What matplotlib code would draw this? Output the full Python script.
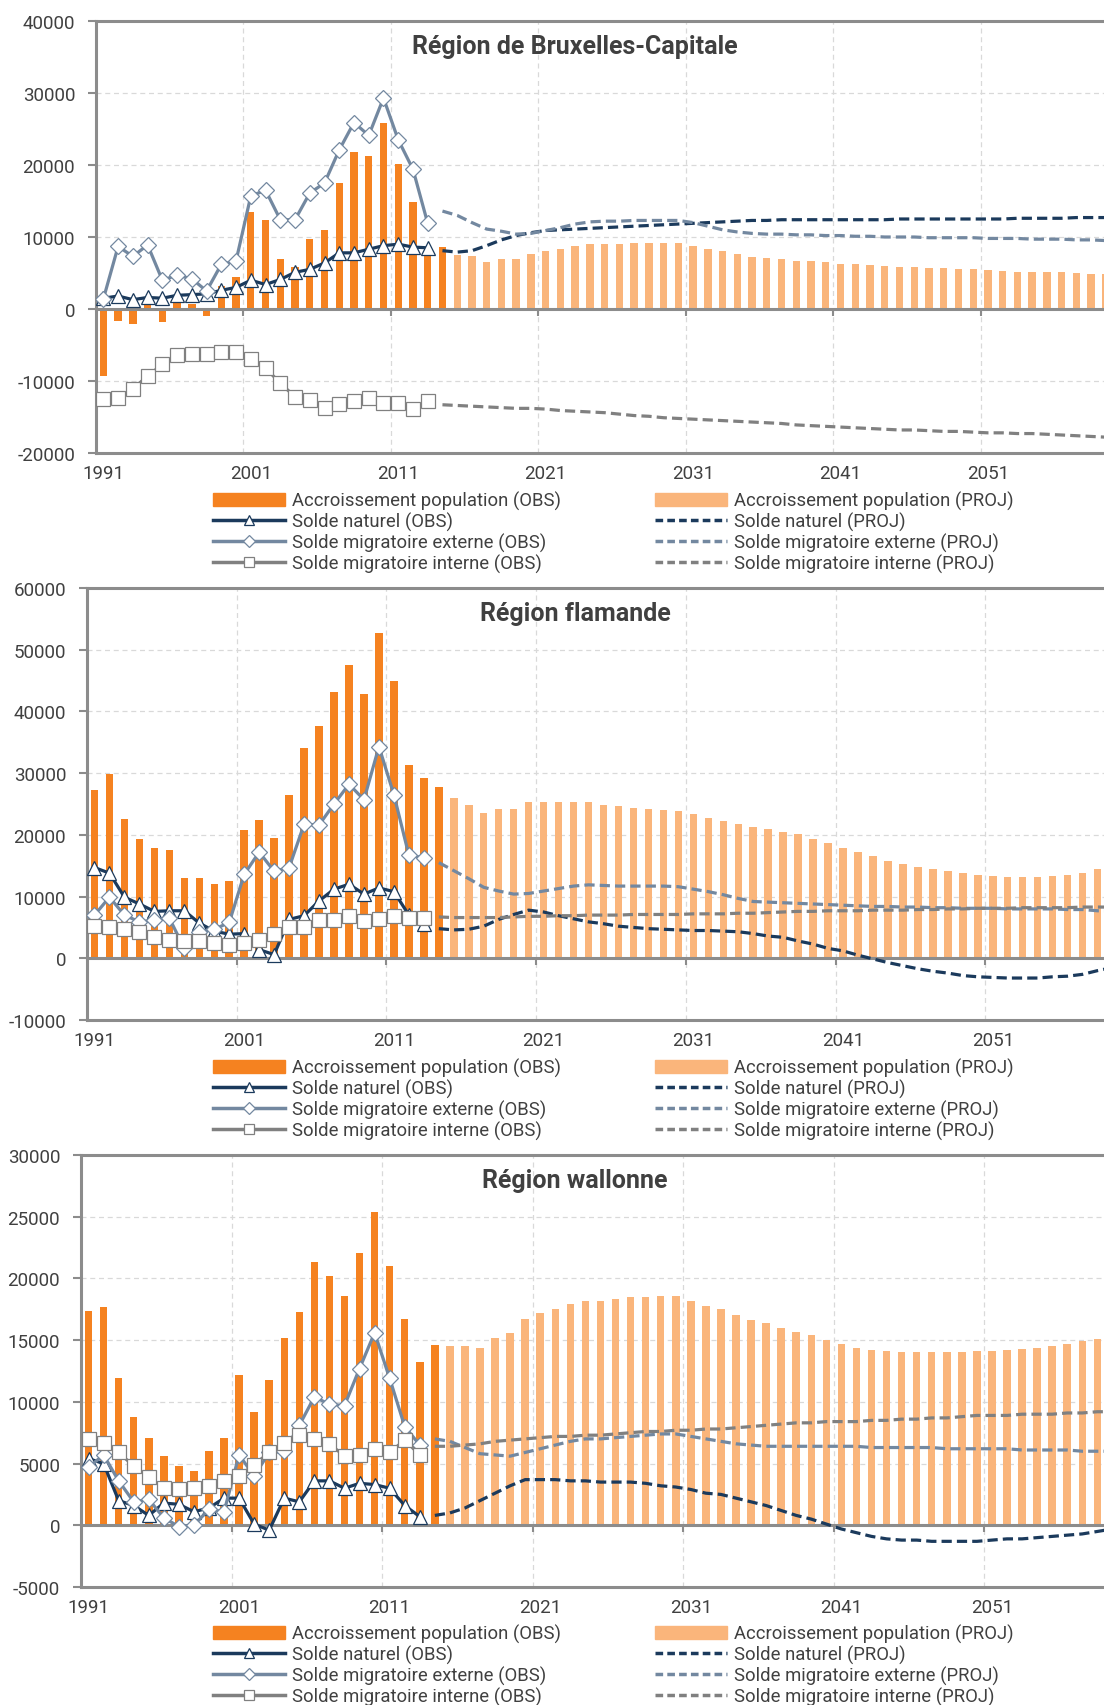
import numpy as np
import matplotlib
matplotlib.use("Agg")
import matplotlib.pyplot as plt
from matplotlib.lines import Line2D
from matplotlib.patches import Patch

plt.rcParams['font.family'] = ['Roboto', 'DejaVu Sans']
plt.rcParams['axes.unicode_minus'] = False

# years
years_obs = np.arange(1991, 2014)        # observed lines
years_bar_obs = np.arange(1991, 2015)    # observed bars
years_bar_proj = np.arange(2015, 2061)   # projected bars
years_proj = np.arange(2014, 2061)       # projected lines
tick_years = [1991, 2001, 2011, 2021, 2031, 2041, 2051]

labels_obs = ["Accroissement population (OBS)", "Solde naturel (OBS)",
              "Solde migratoire externe (OBS)", "Solde migratoire interne (OBS)"]
labels_proj = ["Accroissement population (PROJ)", "Solde naturel (PROJ)",
               "Solde migratoire externe (PROJ)", "Solde migratoire interne (PROJ)"]

# --- Région de Bruxelles-Capitale
bx_acc_obs = [-9300, -1600, -2100, 500, -1800, 1100, 700, -1000, 3200, 4500, 13500, 12400,
              6900, 5900, 9700, 11000, 17500, 21800, 21200, 25900, 20100, 14900, 8000, 8600]
bx_nat_obs = [1500, 1800, 1300, 1600, 1500, 1900, 2000, 2100, 2600, 3000, 4000, 3400,
              4100, 5100, 5500, 6400, 7800, 7800, 8300, 8800, 9000, 8600, 8500]
bx_ext_obs = [1400, 8700, 7300, 8900, 4000, 4700, 4200, 2500, 6200, 6700, 15700, 16500,
              12400, 12400, 16100, 17500, 22100, 25900, 24100, 29300, 23500, 19400, 11900]
bx_int_obs = [-12500, -12300, -11100, -9300, -7700, -6400, -6300, -6300, -6000, -6000, -7000, -8200,
              -10300, -12200, -12600, -13700, -13200, -12800, -12300, -13100, -13100, -13900, -12800]
bx_acc_proj = [7500, 7300, 6500, 6900, 6900, 7700, 8000, 8400, 8700, 9000,
               9000, 9000, 9100, 9100, 9100, 9200, 8800, 8400, 8000, 7600,
               7200, 7100, 6900, 6700, 6600, 6500, 6300, 6300, 6100, 6000,
               5900, 5900, 5700, 5700, 5600, 5500, 5400, 5300, 5200, 5200,
               5100, 5100, 5000, 4900, 4800, 4700]
bx_nat_proj = [8100, 7900, 8100, 8800, 9600, 10200, 10600, 10900, 11000, 11100,
               11200, 11300, 11400, 11500, 11600, 11700, 11800, 11900, 12000, 12100,
               12200, 12300, 12300, 12400, 12400, 12400, 12400, 12400, 12400, 12400,
               12400, 12500, 12500, 12500, 12500, 12500, 12500, 12500, 12500, 12600,
               12600, 12600, 12600, 12700, 12700, 12700, 12700]
bx_ext_proj = [13600, 13000, 12000, 11100, 10800, 10400, 10500, 10900, 11300, 11800,
               12100, 12200, 12200, 12300, 12300, 12300, 12300, 12000, 11500, 11000,
               10700, 10500, 10400, 10400, 10300, 10300, 10200, 10200, 10100, 10100,
               10000, 10000, 10000, 9900, 9900, 9900, 9900, 9800, 9800, 9800,
               9700, 9700, 9700, 9600, 9600, 9500, 9500]
bx_int_proj = [-13300, -13400, -13500, -13600, -13700, -13800, -13800, -13900, -14100, -14200,
               -14300, -14400, -14600, -14800, -14900, -15100, -15200, -15300, -15400, -15500,
               -15600, -15700, -15800, -15900, -16100, -16200, -16300, -16400, -16500, -16600,
               -16700, -16800, -16800, -16900, -17000, -17000, -17100, -17200, -17200, -17300,
               -17300, -17400, -17500, -17600, -17700, -17800, -17900]

# --- Région flamande
fl_acc_obs = [27300, 29900, 22500, 19300, 17800, 17600, 13000, 13000, 12000, 12600, 20800, 22400,
              19500, 26400, 34100, 37700, 43100, 47500, 42900, 52700, 45000, 31300, 29200, 27700]
fl_nat_obs = [14700, 13800, 9900, 8800, 7600, 7700, 7700, 5700, 4400, 3900, 4000, 1400,
              600, 6300, 6900, 9300, 11200, 12000, 10400, 11400, 10800, 7000, 5500]
fl_ext_obs = [7000, 9900, 7000, 5900, 6200, 6500, 1600, 4200, 4700, 5800, 13600, 17200,
              14100, 14700, 21700, 21600, 25000, 28200, 25700, 34300, 26500, 16700, 16300]
fl_int_obs = [5200, 5100, 4700, 4200, 3400, 3000, 2800, 2800, 2400, 2100, 2400, 3000,
              3900, 5100, 5000, 6200, 6200, 6900, 6100, 6400, 6900, 6600, 6600]
fl_acc_proj = [25900, 24900, 23600, 24200, 24200, 25400, 25400, 25400, 25400, 25400,
               24900, 24700, 24400, 24200, 24100, 23900, 23300, 22800, 22300, 21800,
               21300, 21000, 20500, 20100, 19400, 18600, 17900, 17200, 16500, 15800,
               15300, 14800, 14400, 14100, 13800, 13500, 13300, 13200, 13100, 13100,
               13300, 13500, 13900, 14400, 14700, 15000]
fl_nat_proj = [4800, 4600, 4700, 5200, 6300, 7100, 7800, 7500, 6900, 6400,
               5900, 5600, 5200, 5000, 4800, 4700, 4600, 4500, 4500, 4400,
               4300, 4000, 3600, 3400, 2800, 2300, 1600, 1200, 500, -100,
               -700, -1200, -1700, -2100, -2400, -2800, -3000, -3100, -3200, -3200,
               -3200, -3000, -2900, -2600, -2000, -1500, -1000]
fl_ext_proj = [15500, 14200, 12900, 11500, 10900, 10400, 10500, 10900, 11300, 11700,
               11900, 11800, 11700, 11700, 11700, 11700, 11600, 11200, 10800, 10300,
               9700, 9200, 9100, 9000, 8900, 8800, 8700, 8600, 8500, 8400,
               8400, 8300, 8300, 8200, 8200, 8100, 8100, 8100, 8000, 8000,
               8000, 8000, 7900, 7900, 7700, 7700, 7600]
fl_int_proj = [6700, 6600, 6600, 6600, 6600, 6700, 6800, 6800, 6900, 6900,
               7000, 7000, 7000, 7100, 7100, 7100, 7100, 7200, 7200, 7200,
               7300, 7300, 7400, 7500, 7600, 7600, 7700, 7700, 7700, 7800,
               7800, 7800, 7900, 7900, 8000, 8000, 8100, 8100, 8100, 8200,
               8200, 8200, 8200, 8300, 8300, 8300, 8400]

# --- Région wallonne
wa_acc_obs = [17400, 17700, 11900, 8800, 7100, 5600, 4800, 4400, 6000, 7100, 12200, 9200,
              11800, 15200, 17300, 21300, 20200, 18600, 22100, 25400, 21000, 16700, 13200, 14600]
wa_nat_obs = [5400, 5000, 2000, 1600, 800, 1800, 1700, 1100, 1400, 2200, 2200, 100,
              -400, 2200, 1900, 3600, 3600, 3000, 3400, 3300, 3000, 1600, 700]
wa_ext_obs = [4700, 5700, 3600, 1900, 2100, 600, -100, 0, 1300, 1100, 5700, 4000,
              5900, 6000, 8100, 10400, 9800, 9700, 12700, 15600, 11900, 8000, 6500]
wa_int_obs = [7000, 6700, 5900, 4800, 3900, 3000, 2900, 3000, 3200, 3600, 4000, 4900,
              5900, 6700, 7300, 7000, 6600, 5600, 5700, 6200, 5900, 6900, 5700]
wa_acc_proj = [14500, 14500, 14400, 15200, 15600, 16700, 17200, 17500, 17900, 18200,
               18200, 18300, 18500, 18500, 18600, 18600, 18200, 17800, 17500, 17000,
               16600, 16400, 16000, 15700, 15400, 15000, 14700, 14400, 14200, 14100,
               14000, 14000, 14000, 14000, 14000, 14100, 14100, 14200, 14300, 14400,
               14500, 14700, 14900, 15100, 15200, 15300]
wa_nat_proj = [800, 1000, 1400, 2000, 2600, 3200, 3700, 3700, 3700, 3600,
               3600, 3500, 3500, 3500, 3400, 3200, 3100, 2900, 2600, 2500,
               2200, 1900, 1600, 1200, 800, 500, 100, -300, -600, -900,
               -1100, -1200, -1200, -1300, -1300, -1300, -1300, -1200, -1100, -1100,
               -1000, -900, -800, -700, -500, -300, -100]
wa_ext_proj = [7000, 6800, 6300, 5800, 5700, 5600, 5900, 6200, 6500, 6800,
               7000, 7000, 7100, 7200, 7300, 7400, 7400, 7200, 7000, 6800,
               6600, 6500, 6400, 6400, 6400, 6400, 6400, 6400, 6400, 6300,
               6300, 6300, 6300, 6300, 6200, 6200, 6200, 6200, 6200, 6100,
               6100, 6100, 6100, 6000, 6000, 6000, 6000]
wa_int_proj = [6400, 6400, 6500, 6600, 6800, 6900, 7000, 7100, 7200, 7200,
               7300, 7300, 7400, 7500, 7600, 7600, 7700, 7700, 7800, 7800,
               7900, 8000, 8100, 8200, 8300, 8300, 8400, 8400, 8400, 8500,
               8500, 8600, 8600, 8700, 8700, 8800, 8900, 8900, 8900, 9000,
               9000, 9000, 9100, 9100, 9200, 9200, 9200]

c_bar_obs = '#F58220'
c_bar_proj = '#FAB57B'
c_nat = '#1B3A5C'
c_ext = '#7388A0'
c_int = '#808080'
c_axis = '#8C8C8C'
c_grid = '#D9D9D9'
c_text = '#404040'

W, H = 1104, 1706
fig = plt.figure(figsize=(W / 100, H / 100), dpi=100)


def panel(rect_px, ylim, ystep, title, title_y, leg_y, acc_obs, nat_obs, ext_obs, int_obs,
          acc_proj, nat_proj, ext_proj, int_proj):
    l, t, r, b = rect_px
    ax = fig.add_axes([l / W, 1 - b / H, (r - l) / W, (b - t) / H])
    ax.bar(years_bar_obs, acc_obs, width=0.5, color=c_bar_obs, zorder=1)
    ax.bar(years_bar_proj, acc_proj, width=0.5, color=c_bar_proj, zorder=1)
    ax.plot(years_obs, nat_obs, color=c_nat, lw=2.3, marker='^', ms=10, mfc='white',
            mec=c_nat, mew=0.9, zorder=3)
    ax.plot(years_obs, ext_obs, color=c_ext, lw=2.3, marker='D', ms=8.5, mfc='white',
            mec=c_ext, mew=0.9, zorder=4)
    ax.plot(years_obs, int_obs, color=c_int, lw=2.3, marker='s', ms=9.5, mfc='white',
            mec=c_int, mew=0.9, zorder=5)
    ax.plot(years_proj, nat_proj, color=c_nat, lw=2.3, dashes=(3.2, 1.6), zorder=3)
    ax.plot(years_proj, ext_proj, color=c_ext, lw=2.3, dashes=(3.2, 1.6), zorder=3)
    ax.plot(years_proj, int_proj, color=c_int, lw=2.3, dashes=(3.2, 1.6), zorder=3)

    ax.set_xlim(1990.5, 2060.5)
    ax.set_ylim(*ylim)
    ax.set_yticks(np.arange(ylim[0], ylim[1] + 1, ystep))
    ax.set_xticks(tick_years)
    ax.set_xticks(np.arange(2000.5, 2060, 10), minor=True)
    ax.tick_params(axis='x', which='both', length=0, labelsize=13.5, colors=c_text, pad=8)
    ax.tick_params(axis='y', length=6, width=1.5, color=c_axis, labelsize=13.5,
                   labelcolor=c_text, pad=9)
    ax.grid(axis='x', which='minor', color=c_grid, lw=0.9, dashes=(4, 3))
    ax.grid(axis='y', which='major', color=c_grid, lw=0.9, dashes=(4, 3))
    ax.set_axisbelow(True)
    for s in ax.spines.values():
        s.set_color(c_axis)
        s.set_linewidth(2.2)
    ax.spines['right'].set_visible(False)

    # category axis at zero
    zpos = (0 - ylim[0]) / (ylim[1] - ylim[0])
    sec = ax.secondary_xaxis(zpos)
    sec.set_xticks(np.arange(2000.5, 2060, 10))
    sec.tick_params(length=5, width=1.5, color=c_axis, labelbottom=False, labeltop=False)
    for s in sec.spines.values():
        s.set_color(c_axis)
        s.set_linewidth(2.2)
    sec.set_zorder(1.5)

    fig.text(575 / W, 1 - title_y / H, title, ha='center', va='center', fontsize=18,
             fontweight='bold', color=c_text)

    h_obs = [Patch(color=c_bar_obs),
             Line2D([], [], color=c_nat, lw=2.5, marker='^', ms=7.5, mfc='white', mec=c_nat, mew=0.9),
             Line2D([], [], color=c_ext, lw=2.5, marker='D', ms=6, mfc='white', mec=c_ext, mew=0.9),
             Line2D([], [], color=c_int, lw=2.5, marker='s', ms=7.5, mfc='white', mec=c_int, mew=0.9)]
    h_proj = [Patch(color=c_bar_proj),
              Line2D([], [], color=c_nat, lw=2.5, dashes=(2.2, 1.2)),
              Line2D([], [], color=c_ext, lw=2.5, dashes=(2.2, 1.2)),
              Line2D([], [], color=c_int, lw=2.5, dashes=(2.2, 1.2))]
    for hx, hs, labs in ((leg_x[0], h_obs, labels_obs), (leg_x[1], h_proj, labels_proj)):
        fig.legend(hs, labs, loc='upper left', bbox_to_anchor=(hx / W, 1 - leg_y / H),
                   frameon=False, fontsize=13.3, handlelength=3.9, handletextpad=0.35,
                   labelspacing=0.09, borderpad=0, borderaxespad=0, numpoints=1,
                   labelcolor=c_text)
    return ax


leg_x = (213, 655)
panel((96, 22, 1128, 454), (-20000, 40000), 10000, "Région de Bruxelles-Capitale", 47, 492,
      bx_acc_obs, bx_nat_obs, bx_ext_obs, bx_int_obs,
      bx_acc_proj, bx_nat_proj, bx_ext_proj, bx_int_proj)
panel((87, 589, 1135, 1021), (-10000, 60000), 10000, "Région flamande", 614, 1059,
      fl_acc_obs, fl_nat_obs, fl_ext_obs, fl_int_obs,
      fl_acc_proj, fl_nat_proj, fl_ext_proj, fl_int_proj)
panel((81, 1156, 1135, 1588), (-5000, 30000), 5000, "Région wallonne", 1181, 1625,
      wa_acc_obs, wa_nat_obs, wa_ext_obs, wa_int_obs,
      wa_acc_proj, wa_nat_proj, wa_ext_proj, wa_int_proj)

fig.savefig('out.png', dpi=100)
